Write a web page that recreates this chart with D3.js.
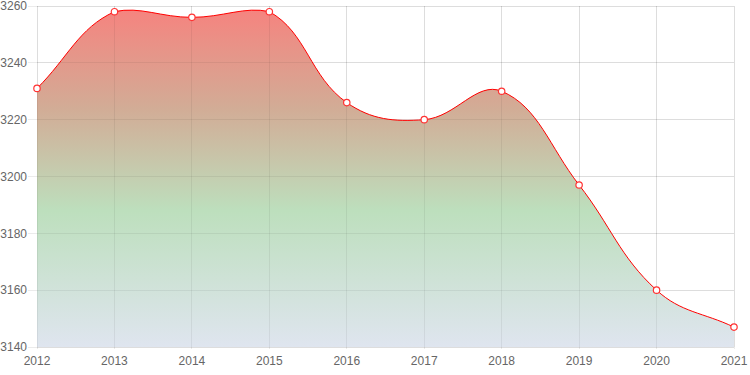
<!DOCTYPE html>
<html><head><meta charset="utf-8">
<script src="https://cdn.jsdelivr.net/npm/d3@7"></script>
<style>body{margin:0;background:#fff}svg{display:block}</style>
</head><body>
<svg id="c" width="750" height="375"></svg>
<script>
const years = ["2012","2013","2014","2015","2016","2017","2018","2019","2020","2021"];
const values = [3231, 3258, 3256, 3258, 3226, 3220, 3230, 3197, 3160, 3147];
const yTicks = [3140, 3160, 3180, 3200, 3220, 3240, 3260];

const svg = d3.select("#c");
const L = 37, R = 734, T = 6, B = 347;
const x = d3.scalePoint().domain(years).range([L, R]);
const y = d3.scaleLinear().domain([3140, 3260]).range([B, T]);

const defs = svg.append("defs");
const g = defs.append("linearGradient").attr("id","gr").attr("gradientUnits","userSpaceOnUse")
  .attr("x1",0).attr("y1",T).attr("x2",0).attr("y2",B);
g.append("stop").attr("offset",0).attr("stop-color","rgb(247,130,126)");
g.append("stop").attr("offset",0.3).attr("stop-color","rgb(210,172,150)");
g.append("stop").attr("offset",0.6).attr("stop-color","rgb(189,223,189)");
g.append("stop").attr("offset",1).attr("stop-color","rgb(223,229,239)");

// grid
const grid = svg.append("g");
yTicks.forEach(t => {
  grid.append("line").attr("x1", L-9).attr("x2", R).attr("y1", y(t)).attr("y2", y(t))
    .attr("stroke","rgba(0,0,0,0.08)").attr("stroke-width",1).attr("shape-rendering","crispEdges");
});
years.forEach(yr => {
  grid.append("line").attr("x1", x(yr)).attr("x2", x(yr)).attr("y1", T).attr("y2", B+2)
    .attr("stroke","rgba(0,0,0,0.08)").attr("stroke-width",1).attr("shape-rendering","crispEdges");
});

// Chart.js-like bezier (tension 0.4)
const pts = years.map((yr,i)=>({x:x(yr), y:y(values[i])}));
const t = 0.4;
pts.forEach((p,i)=>{
  const prev = i===0 ? p : pts[i-1];
  const next = i===pts.length-1 ? p : pts[i+1];
  const d01 = Math.hypot(p.x-prev.x, p.y-prev.y);
  const d12 = Math.hypot(next.x-p.x, next.y-p.y);
  let s01 = d01/(d01+d12), s12 = d12/(d01+d12);
  if (isNaN(s01)) s01 = 0; if (isNaN(s12)) s12 = 0;
  const fa = t*s01, fb = t*s12;
  p.cpx1 = p.x - fa*(next.x-prev.x); p.cpy1 = p.y - fa*(next.y-prev.y);
  p.cpx2 = p.x + fb*(next.x-prev.x); p.cpy2 = p.y + fb*(next.y-prev.y);
  const cap = (v,a,b)=>Math.max(a,Math.min(b,v));
  p.cpx1 = cap(p.cpx1,L,R); p.cpx2 = cap(p.cpx2,L,R);
  p.cpy1 = cap(p.cpy1,T,B); p.cpy2 = cap(p.cpy2,T,B);
});
const path = d3.path();
path.moveTo(pts[0].x, pts[0].y);
for (let i=1;i<pts.length;i++){
  const a = pts[i-1], b = pts[i];
  path.bezierCurveTo(a.cpx2, a.cpy2, b.cpx1, b.cpy1, b.x, b.y);
}
const lineD = path.toString();
const areaD = lineD + `L${pts[pts.length-1].x},${y(3140)}L${pts[0].x},${y(3140)}Z`;

svg.append("path").attr("d", areaD).attr("fill","url(#gr)");
const grid2 = svg.append("g");
yTicks.forEach(tk => {
  grid2.append("line").attr("x1", L).attr("x2", R).attr("y1", y(tk)).attr("y2", y(tk))
    .attr("stroke","rgba(0,0,0,0.06)").attr("shape-rendering","crispEdges");
});
years.forEach(yr => {
  grid2.append("line").attr("x1", x(yr)).attr("x2", x(yr)).attr("y1", T).attr("y2", B)
    .attr("stroke","rgba(0,0,0,0.06)").attr("shape-rendering","crispEdges");
});
svg.append("path").attr("d", lineD).attr("fill","none").attr("stroke","red").attr("stroke-width",1);

svg.selectAll("circle.pt").data(pts).enter().append("circle")
  .attr("cx",d=>d.x).attr("cy",d=>d.y).attr("r",3.2)
  .attr("fill","#fff").attr("stroke","#ff3333").attr("stroke-width",1.2);

// labels
const font = "'Liberation Sans', Arial, Helvetica, sans-serif";
svg.append("g").selectAll("text").data(yTicks).enter().append("text")
  .attr("x", 27).attr("y", d=>y(d)).attr("dy","0.35em").attr("text-anchor","end")
  .attr("font-family",font).attr("font-size",12).attr("fill","#666").text(d=>d);
svg.append("g").selectAll("text").data(years).enter().append("text")
  .attr("x", d=>x(d)).attr("y", 365).attr("text-anchor","middle")
  .attr("font-family",font).attr("font-size",12).attr("fill","#666").text(d=>d);
</script>
</body></html>
